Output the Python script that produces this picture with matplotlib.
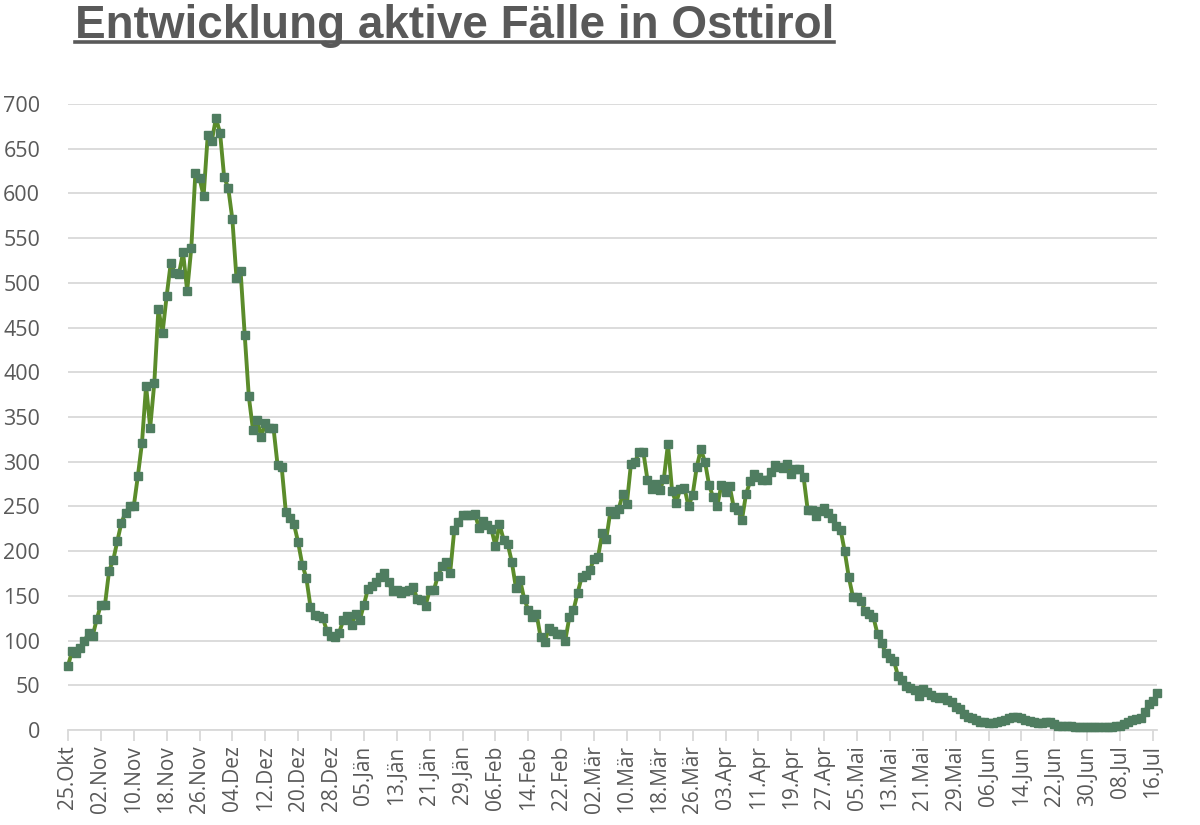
import matplotlib
matplotlib.use("Agg")
import matplotlib.pyplot as plt
from matplotlib.lines import Line2D

# ---- data (daily active cases, 25.Okt .. 16.Jul) ----
okt_nov = [72, 88, 86, 92, 99, 109, 105, 124, 140, 140, 178, 190, 211, 232, 243, 250,
           250, 284, 321, 385, 338, 388, 471, 444, 485, 522, 511, 510, 534, 491, 539,
           623, 617, 597, 665, 659, 684, 668, 618, 606]
dez = [571, 505, 513, 442, 373, 336, 347, 328, 343, 338, 338, 296, 294, 244, 237, 230,
       210, 185, 170, 138, 129, 127, 125, 111, 105, 104, 109]
jan = [123, 128, 117, 130, 123, 140, 158, 161, 166, 171, 176, 165, 155, 157, 153, 155,
       156, 160, 146, 145, 139, 156, 156, 172, 183, 188, 176, 224, 233, 240, 240]
feb = [240, 242, 226, 234, 229, 225, 206, 230, 213, 208, 188, 159, 168, 147, 134, 126,
       130, 104, 98, 114, 111, 107, 107, 100, 126, 134, 153, 171, 173, 179, 191]
mar = [194, 220, 214, 245, 242, 247, 264, 253, 298, 300, 311, 311, 280, 270, 275, 268,
       281, 320, 267, 254, 270, 271, 250, 263, 294, 314, 300, 274, 260, 251, 274]
apr = [266, 273, 249, 246, 235, 264, 278, 286, 283, 279, 279, 289, 296, 294, 293, 297,
       286, 292, 292, 283, 246, 246, 239, 245, 248, 243, 237, 228, 224, 200]
mai = [171, 149, 149, 144, 133, 130, 126, 107, 97, 86, 80, 77, 60, 56, 49, 47, 45, 38,
       46, 43, 39, 37, 36, 37, 34, 31, 26, 23, 18, 15, 13]
jun = [11, 9, 9, 8, 8, 9, 10, 11, 13, 14, 14, 13, 11, 10, 9, 8, 8, 9, 9, 7, 5, 4, 4, 4,
       3, 3, 3, 3, 3, 3]
jul = [3, 3, 3, 3, 4, 5, 7, 9, 11, 12, 13, 20, 29, 32, 41]

values = okt_nov + dez + jan + feb + mar + apr + mai + jun + jul
days = list(range(len(values)))

tick_labels = ["25.Okt", "02.Nov", "10.Nov", "18.Nov", "26.Nov", "04.Dez", "12.Dez",
               "20.Dez", "28.Dez", "05.Jän", "13.Jän", "21.Jän", "29.Jän", "06.Feb",
               "14.Feb", "22.Feb", "02.Mär", "10.Mär", "18.Mär", "26.Mär", "03.Apr",
               "11.Apr", "19.Apr", "27.Apr", "05.Mai", "13.Mai", "21.Mai", "29.Mai",
               "06.Jun", "14.Jun", "22.Jun", "30.Jun", "08.Jul", "16.Jul"]
tick_step = 8
y_ticks = list(range(0, 701, 50))

title = "Entwicklung aktive Fälle in Osttirol"

# ---- figure ----
W, H = 1200, 825
fig = plt.figure(figsize=(W / 100, H / 100), dpi=100)
fig.patch.set_facecolor("white")
ax = fig.add_axes([68 / W, 1 - 730 / H, (1157 - 68) / W, (730 - 104) / H])

text_color = "#595959"
grid_color = "#d9d9d9"

ax.plot(days, values, color="#5b8c2b", lw=2.8, marker="s", ms=6.3,
        mfc="#4f7d60", mec="#4f7d60", zorder=3, clip_on=False)

n_days = len(values) - 1
ax.set_xlim(0, n_days)
ax.set_ylim(0, 700)

ax.set_yticks(y_ticks)
ax.set_yticklabels([str(v) for v in y_ticks], fontsize=15.5, color=text_color,
                   family="Open Sans")
ax.set_xticks([i * tick_step for i in range(len(tick_labels))])
ax.set_xticklabels(tick_labels, rotation=90, fontsize=15, color=text_color,
                   family="Open Sans")

ax.grid(axis="y", color=grid_color, lw=1.3, zorder=0)
ax.set_axisbelow(True)
for s in ["top", "right", "left"]:
    ax.spines[s].set_visible(False)
ax.spines["bottom"].set_color(grid_color)
ax.spines["bottom"].set_linewidth(1.3)
ax.tick_params(axis="y", length=0, pad=20)
ax.tick_params(axis="x", length=8, width=1.3, color=grid_color, pad=3,
               direction="out")

# ---- title with underline ----
t = fig.text(75 / W, 1 - 38 / H, title, fontsize=33, fontweight="bold",
             color=text_color, family="Liberation Sans", va="baseline", ha="left")
fig.canvas.draw()
bb = t.get_window_extent()
uy = 1 - 42 / H
fig.add_artist(Line2D([bb.x0 / W, bb.x1 / W], [uy, uy], transform=fig.transFigure,
                      color=text_color, lw=2.6))

fig.savefig("out.png", dpi=100, facecolor="white")
